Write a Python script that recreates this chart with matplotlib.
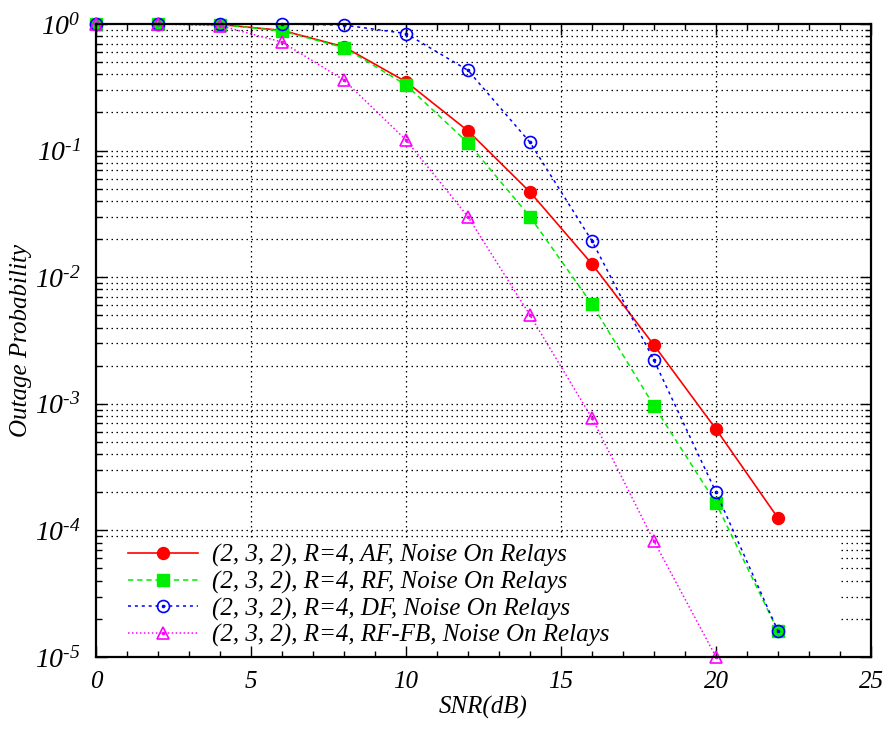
import numpy as np
import matplotlib
matplotlib.use("Agg")
import matplotlib.pyplot as plt
from matplotlib.patches import Rectangle
from matplotlib.legend_handler import HandlerTuple
from matplotlib.ticker import FixedLocator, FuncFormatter

plt.rcParams['font.family'] = 'Liberation Serif'
plt.rcParams['font.style'] = 'italic'
plt.rcParams['mathtext.fontset'] = 'custom'
plt.rcParams['mathtext.it'] = 'Liberation Serif:italic'
plt.rcParams['mathtext.rm'] = 'Liberation Serif:italic'

# outage probability vs SNR, (2, 3, 2) network with R=4
snr = [0, 2, 4, 6, 8, 10, 12, 14, 16, 18, 20, 22]
p_af = [1.0, 1.0, 0.99, 0.89, 0.66, 0.35, 0.143, 0.047, 0.0127, 0.0029, 0.00063, 0.000125]
p_rf = [1.0, 1.0, 0.99, 0.88, 0.65, 0.33, 0.115, 0.030, 0.0061, 0.00096, 0.000164, 1.6e-5]
p_df = [1.0, 1.0, 1.0, 1.0, 0.98, 0.84, 0.43, 0.116, 0.0193, 0.0022, 0.0002, 1.6e-5]
snr_fb = [0, 2, 4, 6, 8, 10, 12, 14, 16, 18, 20]
p_rffb = [1.0, 1.0, 0.97, 0.72, 0.36, 0.121, 0.030, 0.005, 0.00077, 8.2e-5, 1.0e-5]

labels = [
    "(2, 3, 2), R=4, AF, Noise On Relays",
    "(2, 3, 2), R=4, RF, Noise On Relays",
    "(2, 3, 2), R=4, DF, Noise On Relays",
    "(2, 3, 2), R=4, RF-FB, Noise On Relays",
]

fig = plt.figure(figsize=(8.9, 7.33), dpi=100)
ax = fig.add_axes([0.1079, 0.1037, 0.8708, 0.8636])
ax.set_yscale('log')
ax.set_xlim(0, 25)
ax.set_ylim(1e-5, 1)

# dotted grid: every decade subdivision on y, major ticks on x
grid_kw = dict(color='black', lw=0.9, ls=(0, (1.2, 2.8)), zorder=0.6)
for k in range(-5, 0):
    for m in range(1, 10):
        ax.axhline(m * 10.0 ** k, **grid_kw)
for xv in range(5, 25, 5):
    ax.axvline(xv, **grid_kw)

# opaque key area hides the grid but not the curves
ax.add_patch(Rectangle((0, 0), 0.96, 0.186, transform=ax.transAxes,
                       facecolor='white', edgecolor='none', zorder=1))

ms = 8.6
h_af, = ax.plot(snr, p_af, color='#ff0000', lw=1.2, marker='o', ms=ms,
                clip_on=False, zorder=3)
h_rf, = ax.plot(snr, p_rf, color='#00ee00', lw=1.1, ls=(0, (3.5, 2.5)),
                marker='s', ms=ms, clip_on=False, zorder=3)
h_df, = ax.plot(snr, p_df, color='#0000ff', lw=1.1, ls=(0, (2.0, 2.5)),
                marker='o', ms=ms, mfc='none', mew=1.2, clip_on=False, zorder=3)
d_df, = ax.plot(snr, p_df, color='#0000ff', ls='none', marker='o', ms=1.6,
                clip_on=False, zorder=3)
h_fb, = ax.plot(snr_fb, p_rffb, color='#ff00ff', lw=1.1, ls=(0, (1, 1.6)),
                marker='^', ms=ms, mfc='none', mew=1.2, clip_on=False, zorder=3)
d_fb, = ax.plot(snr_fb, p_rffb, color='#ff00ff', ls='none', marker='o', ms=1.6,
                clip_on=False, zorder=3)

leg = ax.legend([h_af, h_rf, (h_df, d_df), (h_fb, d_fb)], labels,
                handler_map={tuple: HandlerTuple(ndivide=1)},
                loc='upper left', bbox_to_anchor=(0.041, 0.178),
                frameon=False, fontsize=18, handlelength=2.8,
                handletextpad=0.55, labelspacing=0.14, borderpad=0,
                borderaxespad=0)
leg.set_zorder(2)


def decade_label(v, pos):
    # short hyphen in the exponent rather than a math minus
    return r'$\mathit{10}^{\text{%d}}$' % round(np.log10(v))


# ticks on all four sides, pointing in
ax.xaxis.set_major_locator(FixedLocator(range(0, 26, 5)))
ax.xaxis.set_minor_locator(FixedLocator(range(0, 26)))
ax.yaxis.set_major_locator(FixedLocator([10.0 ** k for k in range(-5, 1)]))
ax.yaxis.set_minor_locator(FixedLocator([m * 10.0 ** k for k in range(-5, 0)
                                         for m in range(2, 10)]))
ax.yaxis.set_major_formatter(FuncFormatter(decade_label))
ax.tick_params(which='both', direction='in', top=True, right=True,
               width=1.0, labelsize=18)
ax.tick_params(which='major', length=8, pad=10)
ax.tick_params(which='minor', length=4)
ax.tick_params(axis='y', which='major', labelsize=20, pad=11)
for s in ax.spines.values():
    s.set_linewidth(1.6)
    s.set_zorder(4)

ax.set_xlabel('SNR(dB)', fontsize=18, labelpad=2)
ax.set_ylabel('Outage Probability', fontsize=18)
ax.yaxis.set_label_coords(-0.082, 0.5)

fig.savefig('out.png', dpi=100)
